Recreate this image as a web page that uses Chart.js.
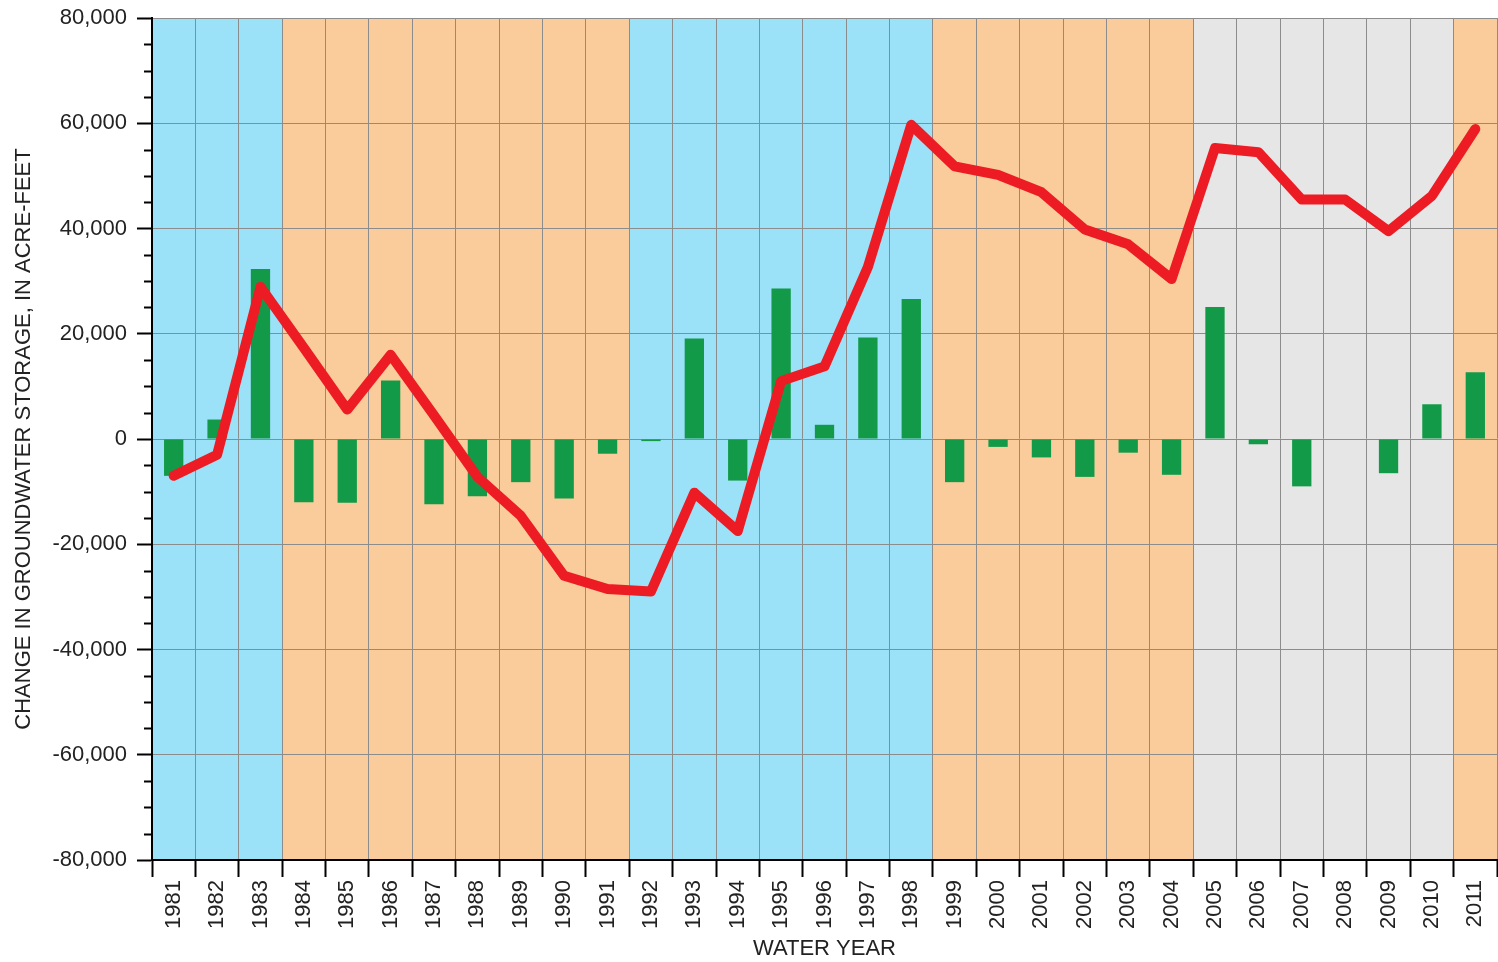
<!DOCTYPE html>
<html>
<head>
<meta charset="utf-8">
<script src="https://cdn.jsdelivr.net/npm/chart.js@4/dist/chart.umd.min.js"></script>
<style>
html,body{margin:0;padding:0;background:#fff;}
#wrap{width:1498px;height:962px;position:relative;}
</style>
</head>
<body>
<div id="wrap"><canvas id="c" width="1498" height="962"></canvas></div>
<script>
// ---- Data ----
const years = ['1981','1982','1983','1984','1985','1986','1987','1988','1989','1990',
  '1991','1992','1993','1994','1995','1996','1997','1998','1999','2000',
  '2001','2002','2003','2004','2005','2006','2007','2008','2009','2010','2011'];

// Annual change in groundwater storage (acre-feet), green bars
const annualChange = [-7000, 3700, 32300, -12000, -12100, 11100, -12400, -10900, -8200, -11300,
  -2800, -400, 19100, -7900, 28600, 2700, 19300, 26600, -8200, -1500,
  -3500, -7200, -2600, -6800, 25100, -1000, -9000, 0, -6500, 6600, 12700];

// Cumulative change in groundwater storage (acre-feet), red line
const cumulativeChange = [-7000, -3000, 28900, 17300, 5600, 16000, 4500, -7200, -14600, -26000,
  -28500, -29000, -10200, -17500, 11000, 13800, 32700, 59700, 51800, 50200,
  46900, 39800, 37000, 30400, 55300, 54500, 45500, 45500, 39500, 46200, 58900];

// Water-year type shading: W = wet (blue), D = dry (orange), N = grey
const yearType = ['W','W','W','D','D','D','D','D','D','D',
  'D','W','W','W','W','W','W','W','D','D',
  'D','D','D','D','N','N','N','N','N','N','D'];

const yMin = -80000, yMax = 80000, majorStep = 20000, minorStep = 5000;

// ---- Styles ----
const bandColors = { W: '#9be1f8', D: '#facc9b', N: '#e6e6e6' };
const FONT = "'Liberation Sans', Arial, Helvetica, sans-serif";

const bandPlugin = {
  id: 'bands',
  beforeDraw(chart) {
    const { ctx, chartArea: a, scales: { x } } = chart;
    const step = x.getPixelForValue(1) - x.getPixelForValue(0);
    ctx.save();
    yearType.forEach((t, i) => {
      const c = x.getPixelForValue(i);
      const l = Math.floor(c - step / 2), r = Math.ceil(c + step / 2);
      ctx.fillStyle = bandColors[t];
      ctx.fillRect(l, a.top, r - l, a.bottom - a.top);
    });
    ctx.restore();
  }
};

const minorTickPlugin = {
  id: 'minorTicks',
  afterDraw(chart) {
    const y = chart.scales.y, ctx = chart.ctx;
    ctx.save();
    ctx.strokeStyle = '#000';
    ctx.lineWidth = 2;
    y.ticks.forEach(t => {
      if (t.value % majorStep !== 0) {
        const py = Math.round(y.getPixelForValue(t.value)) + 0.5;
        ctx.beginPath();
        ctx.moveTo(y.right - 8, py);
        ctx.lineTo(y.right, py);
        ctx.stroke();
      }
    });
    ctx.restore();
  }
};

new Chart(document.getElementById('c'), {
  type: 'bar',
  data: {
    labels: years,
    datasets: [
      {
        type: 'line',
        data: cumulativeChange,
        borderColor: '#ed1c24',
        borderWidth: 10,
        pointRadius: 0,
        tension: 0,
        fill: false,
        borderCapStyle: 'round',
        borderJoinStyle: 'round',
        order: 1
      },
      {
        type: 'bar',
        data: annualChange,
        backgroundColor: '#129a48',
        borderWidth: 0,
        barPercentage: 0.445,
        categoryPercentage: 1,
        order: 2
      }
    ]
  },
  options: {
    responsive: false,
    animation: false,
    devicePixelRatio: 1,
    layout: { padding: { top: 18, right: 1, left: 0, bottom: 0 } },
    plugins: { legend: { display: false }, tooltip: { enabled: false } },
    scales: {
      x: {
        offset: true,
        grid: {
          offset: true,
          color: '#8c8c8c',
          lineWidth: 1,
          tickColor: '#000',
          tickWidth: 2,
          tickLength: 17
        },
        border: { color: '#000', width: 2 },
        ticks: {
          autoSkip: false,
          maxRotation: 90,
          minRotation: 90,
          padding: 3,
          color: '#222',
          font: { family: FONT, size: 22 }
        },
        title: {
          display: true,
          text: 'WATER YEAR',
          color: '#222',
          font: { family: FONT, size: 22, lineHeight: 1.2 },
          padding: { top: 0, bottom: 0 }
        },
        afterFit(scale) {
          scale.height = 102;
          scale.paddingLeft = 0;
          scale.paddingRight = 0;
        }
      },
      y: {
        min: yMin,
        max: yMax,
        grid: {
          color: ctx => (ctx.tick && ctx.tick.value % majorStep === 0) ? '#8c8c8c' : 'rgba(0,0,0,0)',
          lineWidth: 1,
          tickColor: ctx => (ctx.tick && ctx.tick.value % majorStep === 0) ? '#000' : 'rgba(0,0,0,0)',
          tickWidth: 2,
          tickLength: 15
        },
        border: { color: '#000', width: 2 },
        ticks: {
          stepSize: minorStep,
          autoSkip: false,
          padding: 10,
          color: '#222',
          font: { family: FONT, size: 22 },
          callback: v => (v % majorStep === 0) ? v.toLocaleString('en-US') : ''
        },
        title: {
          display: true,
          text: 'CHANGE IN GROUNDWATER STORAGE, IN ACRE-FEET',
          color: '#222',
          font: { family: FONT, size: 22, lineHeight: 1.2 },
          padding: { top: 11, bottom: 0 }
        },
        afterFit(scale) {
          scale.width = 152;
          scale.paddingTop = 0;
          scale.paddingBottom = 0;
        }
      }
    }
  },
  plugins: [bandPlugin, minorTickPlugin]
});
</script>
</body>
</html>
